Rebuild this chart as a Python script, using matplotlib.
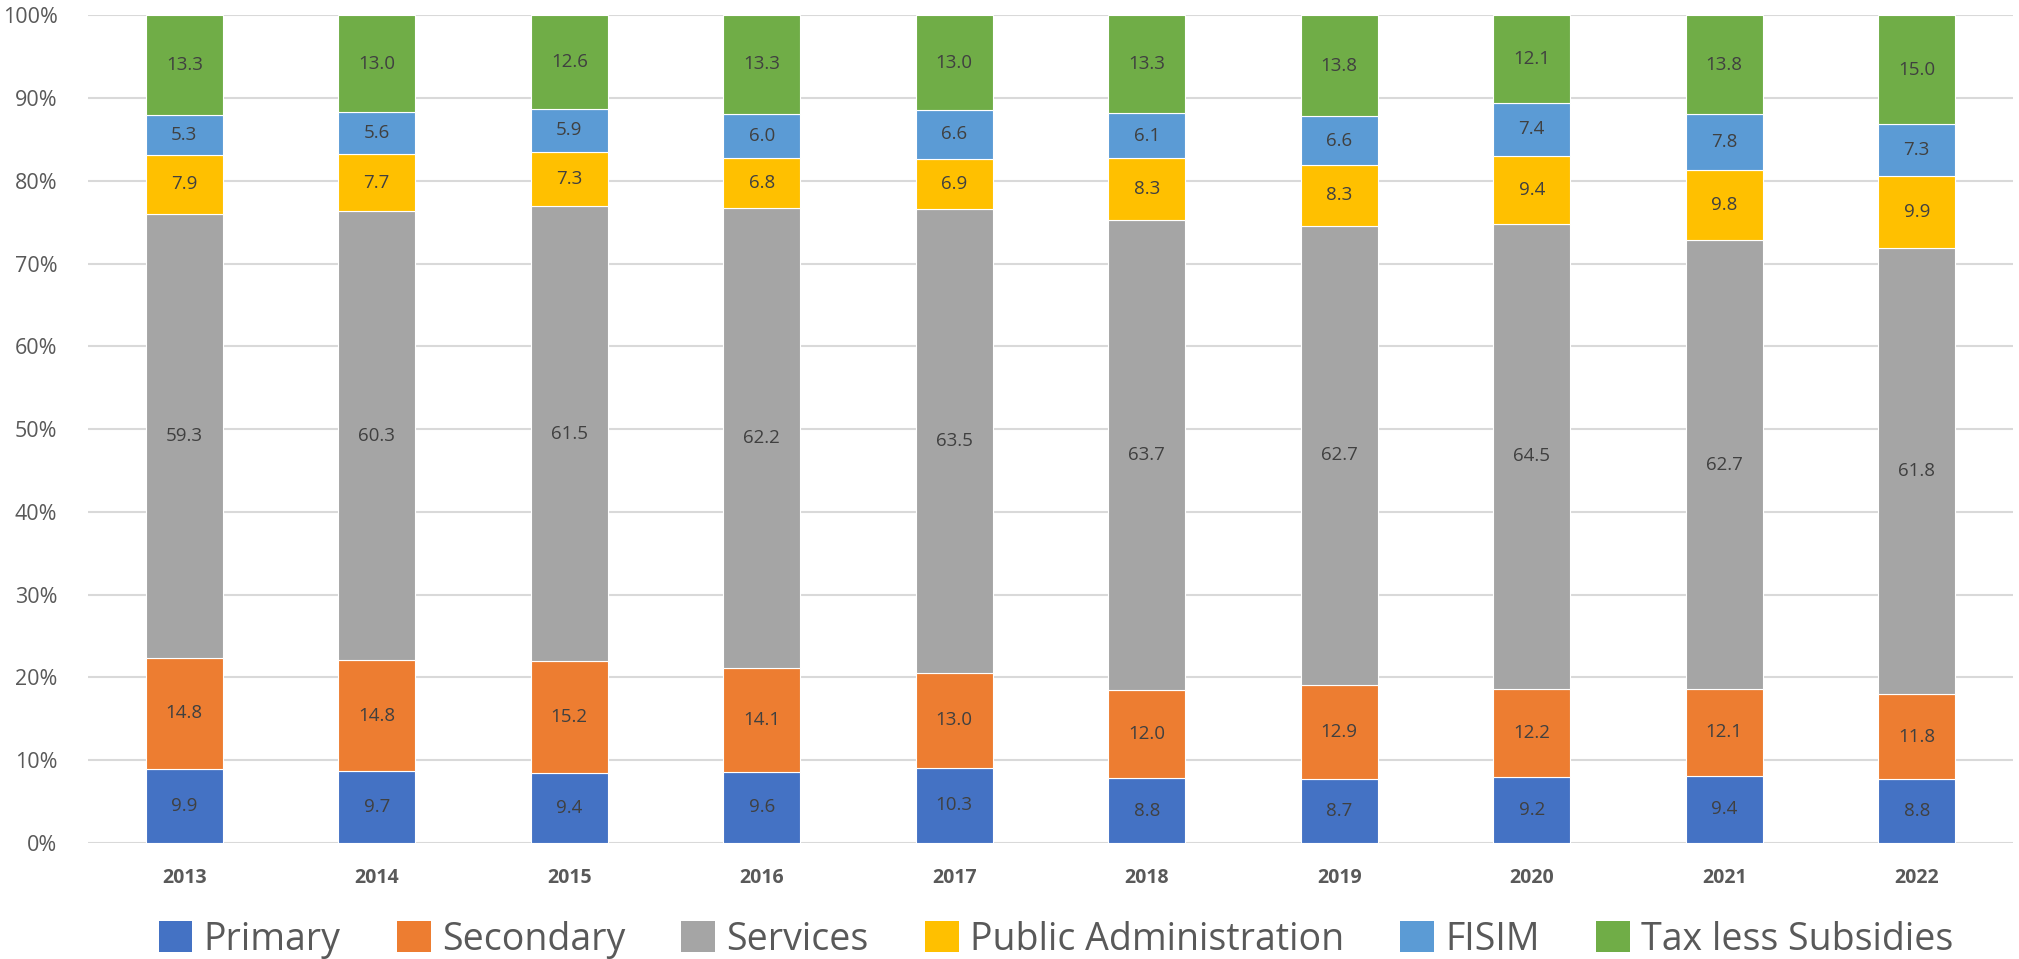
import matplotlib.pyplot as plt
from matplotlib.patches import Patch
import numpy as np

plt.rcParams['font.family'] = ['Open Sans', 'DejaVu Sans']

# Values shown in the labels; each bar is normalised to 100%
years = ['2013', '2014', '2015', '2016', '2017', '2018', '2019', '2020', '2021', '2022']
primary = [9.9, 9.7, 9.4, 9.6, 10.3, 8.8, 8.7, 9.2, 9.4, 8.8]
secondary = [14.8, 14.8, 15.2, 14.1, 13.0, 12.0, 12.9, 12.2, 12.1, 11.8]
services = [59.3, 60.3, 61.5, 62.2, 63.5, 63.7, 62.7, 64.5, 62.7, 61.8]
public_admin = [7.9, 7.7, 7.3, 6.8, 6.9, 8.3, 8.3, 9.4, 9.8, 9.9]
fisim = [5.3, 5.6, 5.9, 6.0, 6.6, 6.1, 6.6, 7.4, 7.8, 7.3]
tax = [13.3, 13.0, 12.6, 13.3, 13.0, 13.3, 13.8, 12.1, 13.8, 15.0]

series_names = ['Primary', 'Secondary', 'Services', 'Public Administration',
                'FISIM', 'Tax less Subsidies']
series = [primary, secondary, services, public_admin, fisim, tax]
colors = ['#4472C4', '#ED7D31', '#A5A5A5', '#FFC000', '#5B9BD5', '#70AD47']

data = np.array(series)
shares = data / data.sum(axis=0) * 100

fig = plt.figure(figsize=(20.19, 9.59), dpi=100)
ax = fig.add_axes([0.0436, 0.121, 0.9534, 0.863])

x = np.arange(len(years))
bottom = np.zeros(len(years))

for name, vals, share, col in zip(series_names, data, shares, colors):
    ax.bar(x, share, width=0.4, bottom=bottom, color=col,
           edgecolor='white', linewidth=0.8, zorder=3, label=name)
    for xi, b, s, v in zip(x, bottom, share, vals):
        ax.text(xi, b + s / 2, f'{v:.1f}', ha='center', va='center',
                fontsize=13.5, color='#404040', zorder=4)
    bottom += share

ax.set_xlim(-0.5, len(years) - 0.5)
ax.set_ylim(0, 100)
ax.set_yticks(np.arange(0, 101, 10))
ax.set_yticklabels([f'{v}%' for v in range(0, 101, 10)])
ax.set_xticks(x)
ax.set_xticklabels(years, fontweight='bold')

ax.tick_params(axis='y', length=0, labelsize=15.5, labelcolor='#595959', pad=22)
ax.tick_params(axis='x', length=0, labelsize=14, labelcolor='#595959', pad=18)

ax.yaxis.grid(True, color='#D9D9D9', linewidth=1.5, zorder=0)
ax.set_axisbelow(True)
for side in ['top', 'right', 'left', 'bottom']:
    ax.spines[side].set_visible(False)

handles = [Patch(facecolor=c, label=n) for n, c in zip(series_names, colors)]
fig.legend(handles=handles, loc='center', bbox_to_anchor=(0.523, 0.02),
           ncol=6, frameon=False, fontsize=27, labelcolor='#595959',
           handlelength=0.9, handleheight=0.9, handletextpad=0.3,
           columnspacing=1.5)

plt.savefig('out.png', dpi=100)
